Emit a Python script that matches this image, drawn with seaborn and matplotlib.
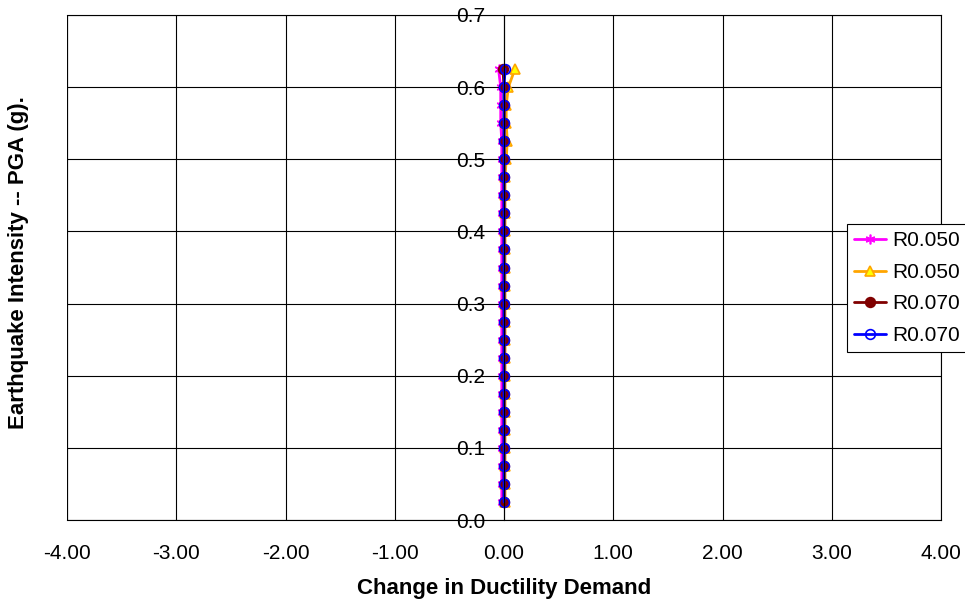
import matplotlib
matplotlib.use('Agg')
import matplotlib.pyplot as plt
import seaborn as sns
import pandas as pd

# PGA levels (g) and change in ductility demand for each series
pga = [0.025, 0.050, 0.075, 0.100, 0.125, 0.150, 0.175, 0.200, 0.225, 0.250,
       0.275, 0.300, 0.325, 0.350, 0.375, 0.400, 0.425, 0.450, 0.475, 0.500,
       0.525, 0.550, 0.575, 0.600, 0.625]

r050_a = [-0.02, -0.02, -0.02, -0.02, -0.02, -0.02, -0.02, -0.02, -0.02, -0.02,
          -0.02, -0.02, -0.02, -0.02, -0.02, -0.02, -0.02, -0.02, -0.02, -0.02,
          -0.02, -0.03, -0.03, -0.03, -0.05]
r050_b = [0.01, 0.01, 0.01, 0.01, 0.01, 0.01, 0.01, 0.01, 0.01, 0.01,
          0.01, 0.01, 0.01, 0.01, 0.01, 0.01, 0.01, 0.01, 0.01, 0.02,
          0.03, 0.02, 0.02, 0.04, 0.10]
r070_a = [0.0, 0.0, 0.0, 0.0, 0.0, 0.0, 0.0, 0.0, 0.0, 0.0,
          0.0, 0.0, 0.0, 0.0, 0.0, 0.0, 0.0, 0.0, 0.0, 0.0,
          0.0, 0.0, 0.0, 0.0, -0.01]
r070_b = [0.0, 0.0, 0.0, 0.0, 0.0, 0.0, 0.0, 0.0, 0.0, 0.0,
          0.0, 0.0, 0.0, 0.0, 0.0, 0.0, 0.0, 0.0, 0.0, 0.0,
          0.0, 0.0, 0.0, 0.0, 0.01]

labels = ['R0.050', 'R0.050', 'R0.070', 'R0.070']
series = [r050_a, r050_b, r070_a, r070_b]
colors = ['#FF00FF', '#FFA500', '#800000', '#0000FF']
markers = [(6, 2, 0), '^', 'o', 'o']
faces = ['#FF00FF', '#FFFF00', '#800000', 'none']

sns.set_style('white')
plt.rcParams['font.family'] = ['Liberation Sans', 'DejaVu Sans']
for k in ['text.color', 'axes.labelcolor', 'xtick.color', 'ytick.color']:
    plt.rcParams[k] = 'black'

fig = plt.figure(figsize=(9.65, 6.04), dpi=100)
ax = fig.add_axes([67 / 965, 84 / 604, 874 / 965, 505 / 604])

for lab, vals, c, m, fc in zip(labels, series, colors, markers, faces):
    df = pd.DataFrame({'x': vals, 'y': pga})
    sns.lineplot(data=df, x='x', y='y', ax=ax, sort=False, estimator=None,
                 color=c, marker=m, markerfacecolor=fc, markeredgecolor=c,
                 markeredgewidth=1.2, markersize=7, linewidth=2, label=lab)

# y axis crosses at x = 0, like the Excel original (set before the ticks,
# moving a spine resets the tick objects)
ax.spines['left'].set_position(('data', 0))

ax.set_xlim(-4, 4)
ax.set_ylim(0, 0.7)
ax.set_xticks([-4, -3, -2, -1, 0, 1, 2, 3, 4])
ax.set_xticklabels(['%.2f' % v for v in ax.get_xticks()])
ax.set_yticks([0.0, 0.1, 0.2, 0.3, 0.4, 0.5, 0.6, 0.7])
ax.set_yticklabels(['%.1f' % v for v in ax.get_yticks()])
ax.grid(True, color='black', linewidth=0.8)
ax.set_axisbelow(True)

for s in ['left', 'top', 'right', 'bottom']:
    ax.spines[s].set_color('black')
    ax.spines[s].set_linewidth(0.8)
ax.axvline(-4, color='black', linewidth=0.8, zorder=0)
ax.tick_params(axis='y', direction='out', length=5, width=0.8, color='black',
               pad=8.5, labelsize=15)
ax.tick_params(axis='x', direction='out', length=5, width=0.8, color='black',
               pad=12, labelsize=15)

ax.set_xlabel('Change in Ductility Demand', fontsize=16, fontweight='bold', labelpad=11)
ax.set_ylabel('')
fig.text(19 / 965, 1 - 263 / 604, 'Earthquake Intensity -- PGA (g).', rotation=90,
         fontsize=16, fontweight='bold', ha='center', va='center')

leg = ax.legend(loc='upper left', bbox_to_anchor=(847 / 965, 1 - 224 / 604),
                bbox_transform=fig.transFigure, fontsize=15, frameon=True,
                fancybox=False, edgecolor='black', framealpha=1,
                handlelength=1.5, handletextpad=0.3, borderpad=0.35,
                labelspacing=0.6, borderaxespad=0)
leg.get_frame().set_linewidth(0.8)

fig.savefig('out.png', dpi=100)
